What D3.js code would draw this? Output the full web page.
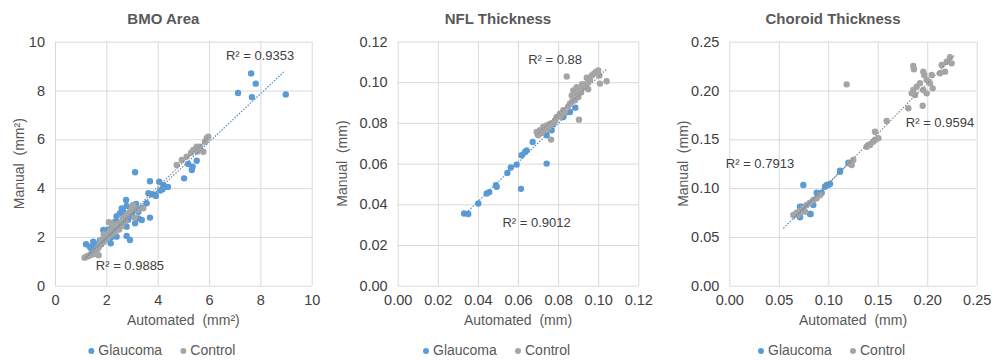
<!DOCTYPE html>
<html><head><meta charset="utf-8">
<script src="https://cdn.jsdelivr.net/npm/d3@7"></script>
<style>
body{margin:0;background:#fff;}
svg{display:block;font-family:"Liberation Sans",Arial,sans-serif;}
</style></head>
<body><svg id="c" width="994" height="360"></svg>
<script>
// ---------- DATA ----------
const titles = ["BMO Area", "NFL Thickness", "Choroid Thickness"];
const xTitles = ["Automated  (mm²)", "Automated  (mm)", "Automated  (mm)"];
const yTitles = ["Manual  (mm²)", "Manual  (mm)", "Manual  (mm)"];
const seriesNames = ["Glaucoma", "Control"];

const bmoTicks = [0, 2, 4, 6, 8, 10];
const nflTicks = [0, 0.02, 0.04, 0.06, 0.08, 0.10, 0.12];
const choroidTicks = [0, 0.05, 0.10, 0.15, 0.20, 0.25];

const bmoGlaucoma = [[1.21,1.70],[1.36,1.60],[1.49,1.80],[1.69,1.57],[1.60,1.45],[1.75,1.85],[1.88,2.28],[1.95,2.04],[2.17,1.74],[2.21,2.35],[2.34,2.62],[2.40,2.01],[2.53,2.97],[2.60,3.17],[2.66,2.76],[2.77,3.51],[2.79,3.27],[2.79,2.42],[2.79,2.04],[2.92,1.87],[2.99,3.10],[3.05,3.31],[3.12,2.56],[3.16,3.35],[3.25,3.03],[3.25,2.76],[3.38,2.69],[3.57,3.38],[3.64,3.79],[3.70,2.79],[3.77,3.75],[3.93,3.68],[3.12,4.65],[3.70,4.28],[4.06,4.26],[4.22,4.13],[4.29,4.06],[4.19,3.95],[3.90,3.72],[5.03,4.40],[5.33,4.74],[5.36,4.88],[5.19,4.99],[5.52,5.12],[7.13,7.90],[7.64,8.70],[7.82,8.28],[7.67,7.73],[8.99,7.84],[2.00,2.20],[2.10,1.90],[2.30,2.20],[2.45,2.60],[2.50,2.40],[2.60,2.50],[2.70,2.90],[2.85,2.70],[1.55,1.70],[1.80,1.70],[2.20,2.00],[2.95,2.85],[3.00,3.00],[2.40,2.85],[1.40,1.55],[2.25,2.45],[3.40,3.20],[2.65,3.05],[2.05,2.30],[4.40,4.05],[4.10,3.90]];
const bmoControl = [[1.15,1.15],[1.20,1.18],[1.25,1.20],[1.30,1.22],[1.35,1.25],[1.40,1.30],[1.45,1.28],[1.50,1.35],[1.55,1.40],[1.60,1.30],[1.65,1.50],[1.70,1.25],[1.70,1.60],[1.75,1.70],[1.80,1.85],[1.85,1.90],[1.90,1.80],[1.95,2.00],[2.00,2.05],[2.05,1.95],[2.10,2.15],[2.15,2.25],[2.20,2.10],[2.25,2.30],[2.30,2.40],[2.35,2.20],[2.40,2.50],[2.45,2.35],[2.50,2.55],[2.55,2.60],[2.60,2.45],[2.65,2.70],[2.70,2.80],[2.75,2.65],[2.80,2.90],[2.85,2.95],[2.90,3.00],[2.95,3.10],[3.00,3.20],[3.05,3.30],[3.10,2.80],[3.15,3.15],[3.20,3.10],[2.20,2.55],[2.10,2.60],[1.90,2.10],[2.50,2.30],[3.44,3.17],[4.74,4.95],[4.94,5.15],[5.13,5.29],[5.39,5.56],[5.52,5.70],[5.65,5.70],[5.78,5.49],[5.84,5.90],[5.91,6.04],[5.97,6.11],[5.30,5.45],[5.55,5.50]];
const bmoTrendGlaucoma = [[1.2,1.15],[8.96,8.81]];
const bmoTrendControl = [[1.15,1.10],[6.0,6.10]];
const bmoR2 = ["R² = 0.9353", "R² = 0.9885"];

const nflGlaucoma = [[0.0331,0.0355],[0.0352,0.0352],[0.0402,0.0404],[0.0444,0.0453],[0.0457,0.0460],[0.0490,0.0494],[0.0494,0.0486],[0.0547,0.0554],[0.0564,0.0581],[0.0593,0.0595],[0.0615,0.0476],[0.0618,0.0641],[0.0635,0.0657],[0.0643,0.0665],[0.0673,0.0706],[0.0743,0.0600],[0.0726,0.0755],[0.0743,0.0739],[0.0768,0.0764],[0.0776,0.0796],[0.0826,0.0829],[0.0859,0.0853],[0.0886,0.0875]];
const nflControl = [[0.0843,0.1028],[0.0989,0.1050],[0.1000,0.1058],[0.1006,0.1033],[0.1042,0.1005],[0.1009,0.0993],[0.0959,0.1009],[0.0943,0.0993],[0.0926,0.0976],[0.0935,0.0985],[0.0909,0.0960],[0.0893,0.0943],[0.0901,0.0927],[0.0884,0.0911],[0.0904,0.0816],[0.0826,0.0862],[0.0809,0.0845],[0.0793,0.0829],[0.0785,0.0813],[0.0760,0.0796],[0.0743,0.0788],[0.0726,0.0780],[0.0710,0.0764],[0.0693,0.0755],[0.0701,0.0739],[0.0765,0.0718],[0.0752,0.0770],[0.0718,0.0750],[0.0859,0.0894],[0.0868,0.0935],[0.0876,0.0960],[0.0893,0.0975],[0.0943,0.1022],[0.0968,0.1033],[0.0979,0.1042],[0.0915,0.0950],[0.0920,0.0990],[0.0950,0.0965],[0.0835,0.0850],[0.0815,0.0830],[0.0775,0.0800],[0.0735,0.0765],[0.0850,0.0880],[0.0870,0.0905]];
const nflTrendGlaucoma = [[0.0331,0.0347],[0.0893,0.0886]];
const nflTrendControl = [[0.0685,0.0735],[0.1040,0.1063]];
const nflR2 = ["R² = 0.88", "R² = 0.9012"];

const choroidGlaucoma = [[0.0748,0.1032],[0.1203,0.1260],[0.1119,0.1178],[0.1119,0.1168],[0.1000,0.1032],[0.1018,0.1042],[0.0984,0.1032],[0.0967,0.1014],[0.0934,0.0953],[0.0900,0.0940],[0.0883,0.0953],[0.0849,0.0827],[0.0815,0.0735],[0.0822,0.0735],[0.0714,0.0701],[0.0714,0.0708],[0.0748,0.0776],[0.0714,0.0809],[0.0731,0.0809]];
const choroidControl = [[0.1186,0.2063],[0.1859,0.2251],[0.1866,0.2217],[0.2230,0.2340],[0.2197,0.2295],[0.2247,0.2278],[0.2146,0.2261],[0.2180,0.2193],[0.2129,0.2176],[0.2045,0.2159],[0.1960,0.2193],[0.1970,0.2159],[0.1995,0.2108],[0.1927,0.2074],[0.2028,0.2074],[0.1894,0.2039],[0.1859,0.2005],[0.1843,0.1971],[0.1877,0.1954],[0.1960,0.2005],[0.1995,0.1971],[0.2055,0.2022],[0.1809,0.1818],[0.1954,0.1844],[0.1590,0.1687],[0.1472,0.1578],[0.1506,0.1510],[0.1472,0.1493],[0.1422,0.1441],[0.1388,0.1424],[0.1455,0.1475],[0.1405,0.1441],[0.1253,0.1288],[0.1237,0.1237],[0.1220,0.1250],[0.0647,0.0724],[0.0681,0.0748],[0.0714,0.0769],[0.0748,0.0793],[0.0782,0.0827],[0.0815,0.0850],[0.0849,0.0878],[0.0883,0.0895],[0.0917,0.0929],[0.0697,0.0724],[0.0765,0.0758]];
const choroidTrendGlaucoma = [[0.0546,0.0588],[0.1220,0.1270]];
const choroidTrendControl = [[0.0650,0.0680],[0.2281,0.2364]];
const choroidR2 = ["R² = 0.9594", "R² = 0.7913"];

// ---------- LAYOUT ----------
const colors = ["#5b9bd5", "#a5a5a5"];
const panels = [
  {title: titles[0], xt: xTitles[0], yt: yTitles[0], ticks: bmoTicks, fmt: d3.format("d"),
   g: bmoGlaucoma, c: bmoControl, tg: bmoTrendGlaucoma, tc: bmoTrendControl, r2: bmoR2,
   r2pos: [[7.99, 9.41], [2.92, 0.78]], box: [55, 311.7, 41.7, 285.7], yTitleX: 20},
  {title: titles[1], xt: xTitles[1], yt: yTitles[1], ticks: nflTicks, fmt: d3.format(".2f"),
   g: nflGlaucoma, c: nflControl, tg: nflTrendGlaucoma, tc: nflTrendControl, r2: nflR2,
   r2pos: [[0.0785, 0.1107], [0.0693, 0.0306]], box: [397.7, 638.3, 41.5, 285.7], yTitleX: 343},
  {title: titles[2], xt: xTitles[2], yt: yTitles[2], ticks: choroidTicks, fmt: d3.format(".2f"),
   g: choroidGlaucoma, c: choroidControl, tg: choroidTrendGlaucoma, tc: choroidTrendControl, r2: choroidR2,
   r2pos: [[0.2129, 0.1664], [0.031, 0.1243]], box: [729.3, 976.7, 41.7, 285.7], yTitleX: 684}
];

const svg = d3.select("#c");
const grid = "#d9d9d9", txt = "#595959", tickTxt = "#404040";

panels.forEach(p => {
  const [l, r, t, b] = p.box;
  const dom = d3.extent(p.ticks);
  const x = d3.scaleLinear().domain(dom).range([l, r]);
  const y = d3.scaleLinear().domain(dom).range([b, t]);
  const g = svg.append("g");
  const cx = (l + r) / 2 - 20;

  g.append("g").attr("transform", `translate(0,${b})`)
    .call(d3.axisBottom(x).tickValues(p.ticks).tickSize(-(b - t)).tickFormat(p.fmt).tickPadding(9))
    .call(a => a.select(".domain").remove())
    .call(a => a.selectAll("line").attr("stroke", grid).attr("stroke-width", 1))
    .call(a => a.selectAll("text").attr("fill", tickTxt).attr("font-size", 14.5).attr("font-family", "Liberation Sans, Arial, sans-serif"));
  g.append("g").attr("transform", `translate(${l},0)`)
    .call(d3.axisLeft(y).tickValues(p.ticks).tickSize(-(r - l)).tickFormat(p.fmt).tickPadding(10))
    .call(a => a.select(".domain").remove())
    .call(a => a.selectAll("line").attr("stroke", grid).attr("stroke-width", 1))
    .call(a => a.selectAll("text").attr("fill", tickTxt).attr("font-size", 14.5).attr("font-family", "Liberation Sans, Arial, sans-serif"));

  [[p.g, colors[0]], [p.c, colors[1]]].forEach(([data, col]) => {
    g.append("g").selectAll("circle").data(data).join("circle")
      .attr("cx", d => x(d[0])).attr("cy", d => y(d[1])).attr("r", 3.2).attr("fill", col);
  });

  const line = d3.line().x(d => x(d[0])).y(d => y(d[1]));
  g.append("path").attr("d", line(p.tg)).attr("stroke", "#4a8fd0").attr("stroke-width", 1.2)
    .attr("stroke-dasharray", "1.5,1.5").attr("fill", "none");
  g.append("path").attr("d", line(p.tc)).attr("stroke", "#8c8c8c").attr("stroke-width", 1.2)
    .attr("stroke-dasharray", "1.5,1.5").attr("fill", "none");

  p.r2.forEach((s, i) => {
    g.append("text").attr("x", x(p.r2pos[i][0])).attr("y", y(p.r2pos[i][1]))
      .attr("text-anchor", "middle").attr("dominant-baseline", "middle")
      .attr("font-size", 13).attr("fill", "#404040").text(s);
  });

  g.append("text").attr("x", cx).attr("y", 20).attr("text-anchor", "middle")
    .attr("dominant-baseline", "middle").attr("font-size", 15).attr("font-weight", "bold")
    .attr("fill", txt).text(p.title);
  g.append("text").attr("x", (l + r) / 2).attr("y", 321).attr("text-anchor", "middle")
    .attr("dominant-baseline", "middle").attr("font-size", 14).attr("fill", txt)
    .style("white-space", "pre").text(p.xt);
  g.append("text").attr("transform", `translate(${p.yTitleX},${(t + b) / 2}) rotate(-90)`)
    .attr("text-anchor", "middle").attr("dominant-baseline", "middle").attr("font-size", 14)
    .attr("fill", txt).style("white-space", "pre").text(p.yt);

  const leg = g.append("g").attr("transform", `translate(${cx},351)`);
  const items = [{n: seriesNames[0], c: colors[0], dx: -72}, {n: seriesNames[1], c: colors[1], dx: 20}];
  items.forEach(it => {
    leg.append("circle").attr("cx", it.dx).attr("cy", 0).attr("r", 3).attr("fill", it.c);
    leg.append("text").attr("x", it.dx + 7).attr("y", 0).attr("dominant-baseline", "middle")
      .attr("font-size", 14).attr("fill", txt).text(it.n);
  });
});
</script></body></html>
